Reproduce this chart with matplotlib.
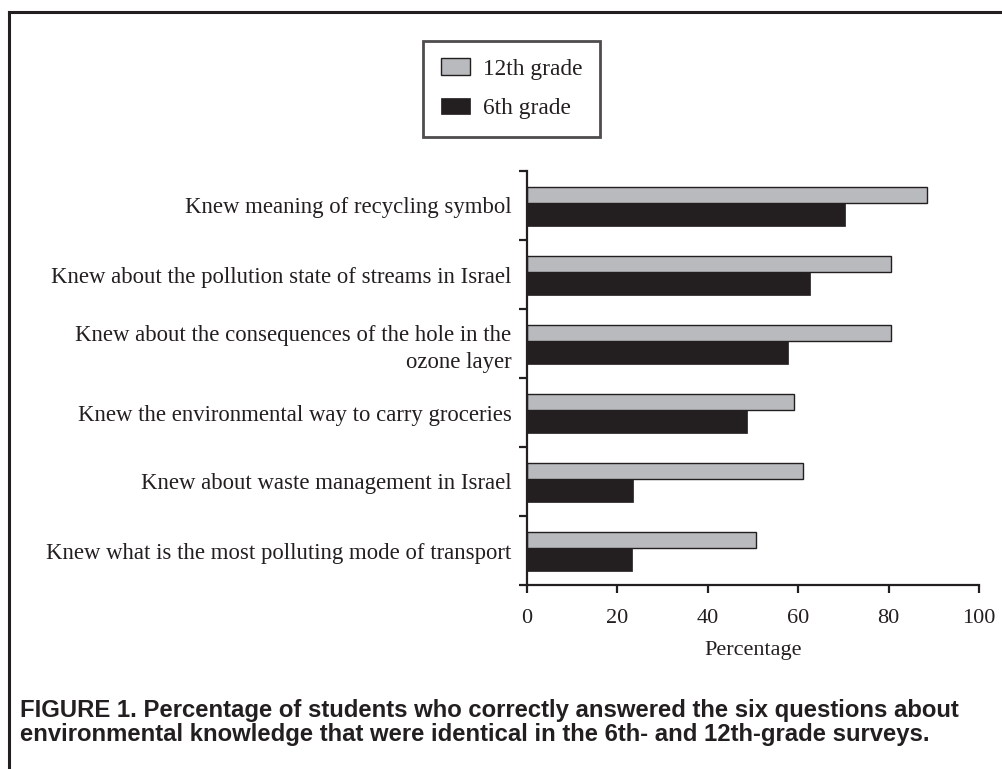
import matplotlib
matplotlib.use("Agg")
import matplotlib.pyplot as plt
from matplotlib.lines import Line2D
import numpy as np

categories = [
    "Knew meaning of recycling symbol",
    "Knew about the pollution state of streams in Israel",
    "Knew about the consequences of the hole in the\nozone layer",
    "Knew the environmental way to carry groceries",
    "Knew about waste management in Israel",
    "Knew what is the most polluting mode of transport",
]
grade12 = [88.4, 80.5, 80.6, 59.0, 61.0, 50.7]
grade6 = [70.4, 62.6, 57.7, 48.8, 23.6, 23.2]
xticks = [0, 20, 40, 60, 80, 100]
series_names = ["12th grade", "6th grade"]
caption = ("FIGURE 1. Percentage of students who correctly answered the six questions about\n"
           "environmental knowledge that were identical in the 6th- and 12th-grade surveys.")

W, H = 1003, 769
fig = plt.figure(figsize=(W / 100, H / 100), dpi=100)
serif = ["Liberation Serif", "DejaVu Serif"]
ink = "#231f20"
fs_lab = 16.4
fs_tick = 16

ax = fig.add_axes([526.7 / W, 1 - 585 / H, (979 - 526.7) / W, (585 - 171) / H])
n = len(categories)
tops = np.arange(n, 0, -1)  # top edge of each category band
gray = "#b9babd"
b12 = ax.barh(tops - 0.348, grade12, height=0.232, color=gray, edgecolor=ink,
              linewidth=1.0, label=series_names[0])
b6 = ax.barh(tops - 0.63, grade6, height=0.333, color=ink, edgecolor=ink,
             linewidth=0.5, label=series_names[1])

ax.set_xlim(0, 100)
ax.set_ylim(0, n)
for s in ["top", "right"]:
    ax.spines[s].set_visible(False)
for s in ["left", "bottom"]:
    ax.spines[s].set_linewidth(1.6)
    ax.spines[s].set_color(ink)
ax.set_xticks(xticks)
ax.set_xticklabels([str(t) for t in xticks], fontfamily=serif, fontsize=fs_tick, color=ink)
ax.set_yticks(np.arange(0, n + 1))
ax.set_yticklabels([])
ax.set_yticks(tops - 0.5, minor=True)
ax.set_yticklabels(categories, minor=True, fontfamily=serif, fontsize=fs_lab, color=ink,
                   ha="right", linespacing=1.4)
ax.tick_params(axis="y", which="major", length=6, width=1.6, color=ink, direction="out")
ax.tick_params(axis="y", which="minor", length=0, pad=11)
ax.tick_params(axis="x", length=6, width=1.6, color=ink, direction="out", pad=11)
ax.set_xlabel("Percentage", fontfamily=serif, fontsize=fs_tick, color=ink, labelpad=10)

fs_leg = 16.8
leg = fig.legend(handles=[b12, b6], labels=series_names, loc="upper left",
                 bbox_to_anchor=(423.3 / W, 1 - 40.7 / H), prop={"family": serif, "size": fs_leg},
                 frameon=True, fancybox=False, edgecolor=ink, borderpad=0.76,
                 handlelength=1.24, handleheight=0.69, handletextpad=0.56, labelspacing=0.78,
                 borderaxespad=0)
leg.get_frame().set_linewidth(2.0)
leg.get_frame().set_facecolor("white")
for t in leg.get_texts():
    t.set_color(ink)

# Outer frame (left and top)
fig.add_artist(Line2D([9.5 / W, 9.5 / W], [0, 1 - 12 / H], transform=fig.transFigure,
                      color=ink, linewidth=2.2, solid_capstyle="projecting"))
fig.add_artist(Line2D([9.5 / W, 1], [1 - 12 / H, 1 - 12 / H], transform=fig.transFigure,
                      color=ink, linewidth=2.2, solid_capstyle="projecting"))

fig.text(20 / W, 1 - 722.5 / H, caption, ha="left", va="center", fontsize=17.2,
         fontweight="bold", family=["Liberation Sans", "DejaVu Sans"],
         color=ink, linespacing=1.05)

fig.savefig("out.png", dpi=100, facecolor="white")
